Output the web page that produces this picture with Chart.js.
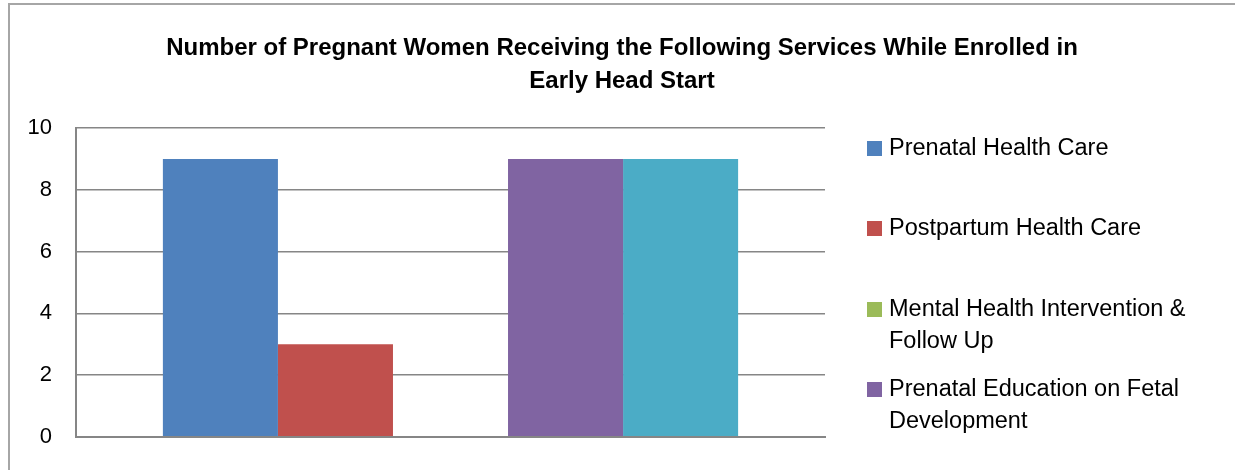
<!DOCTYPE html>
<html>
<head>
<meta charset="utf-8">
<script src="https://cdn.jsdelivr.net/npm/chart.js@4"></script>
<style>
  html, body { margin: 0; padding: 0; background: #fff; }
  #wrap { position: relative; width: 1235px; height: 470px; overflow: hidden; }
  #frame { position: absolute; left: 8px; top: 3px; width: 1240px; height: 480px; border: 2px solid #a6a6a6; box-sizing: border-box; }
  canvas { position: absolute; left: 0; top: 0; }
  #title { position: absolute; left: 122px; width: 1000px; top: 30px; text-align: center; font-family: "Liberation Sans", sans-serif; font-weight: bold; font-size: 24px; line-height: 33px; color: #000; }
  #legend { position: absolute; left: 867px; top: 131px; width: 350px; font-family: "Liberation Sans", Arial, sans-serif; font-size: 23.5px; color: #000; }
  .item { position: absolute; left: 0; display: flex; align-items: flex-start; }
  .box { width: 15px; height: 15px; margin-top: 10px; margin-right: 7px; flex: none; }
  .txt { line-height: 32px; width: 330px; }
</style>
</head>
<body>
<div id="wrap">
  <div id="frame"></div>
  <canvas id="chart" width="1235" height="474"></canvas>
  <div id="title"></div>
  <div id="legend"></div>
</div>
<script>
// data
const categories = [""];
const seriesNames = [
  "Prenatal Health Care",
  "Postpartum Health Care",
  "Mental Health Intervention & Follow Up",
  "Prenatal Education on Fetal Development",
  "Information on Benefits of Breastfeeding"
];
const seriesValues = [[9], [3], [0], [9], [9]];
const seriesColors = ["#4F81BD", "#C0504D", "#9BBB59", "#8064A2", "#4BACC6"];
const yTicks = [0, 2, 4, 6, 8, 10];
const titleLines = ["Number of Pregnant Women Receiving the Following Services While Enrolled in", "Early Head Start"];

// only the first 4 fit in the legend box, the last one is cut off
const legendShown = 4;
const legendTops = [0, 80, 161, 241];

const datasets = seriesNames.map((name, i) => ({
  label: name,
  data: seriesValues[i],
  backgroundColor: seriesColors[i],
  barPercentage: 1,
  categoryPercentage: 0.768
}));

new Chart(document.getElementById("chart"), {
  type: "bar",
  data: { labels: categories, datasets },
  options: {
    responsive: false,
    animation: false,
    layout: { padding: { left: 8, right: 410, top: 128, bottom: 30 } },
    plugins: {
      legend: { display: false },
      tooltip: { enabled: false }
    },
    scales: {
      x: {
        ticks: { display: false },
        grid: { display: false, drawTicks: false },
        border: { color: "#868686", width: 2 },
        afterFit: s => { s.height = 0; }
      },
      y: {
        min: yTicks[0],
        max: yTicks[yTicks.length - 1],
        ticks: { stepSize: 2, color: "#000", padding: 24, font: { family: "'Liberation Sans', sans-serif", size: 22 } },
        grid: { color: "#868686", lineWidth: 1.5, drawTicks: false },
        border: { color: "#868686", width: 2 },
        afterFit: s => { s.width = 68; }
      }
    }
  }
});

document.getElementById("title").innerHTML = titleLines.map(t => {
  const d = document.createElement("div");
  d.textContent = t;
  return d.outerHTML;
}).join("");

const legend = document.getElementById("legend");
for (let i = 0; i < legendShown; i++) {
  const item = document.createElement("div");
  item.className = "item";
  item.style.top = legendTops[i] + "px";
  item.innerHTML = `<span class="box" style="background:${seriesColors[i]}"></span><span class="txt"></span>`;
  item.querySelector(".txt").textContent = seriesNames[i];
  legend.appendChild(item);
}
</script>
</body>
</html>
